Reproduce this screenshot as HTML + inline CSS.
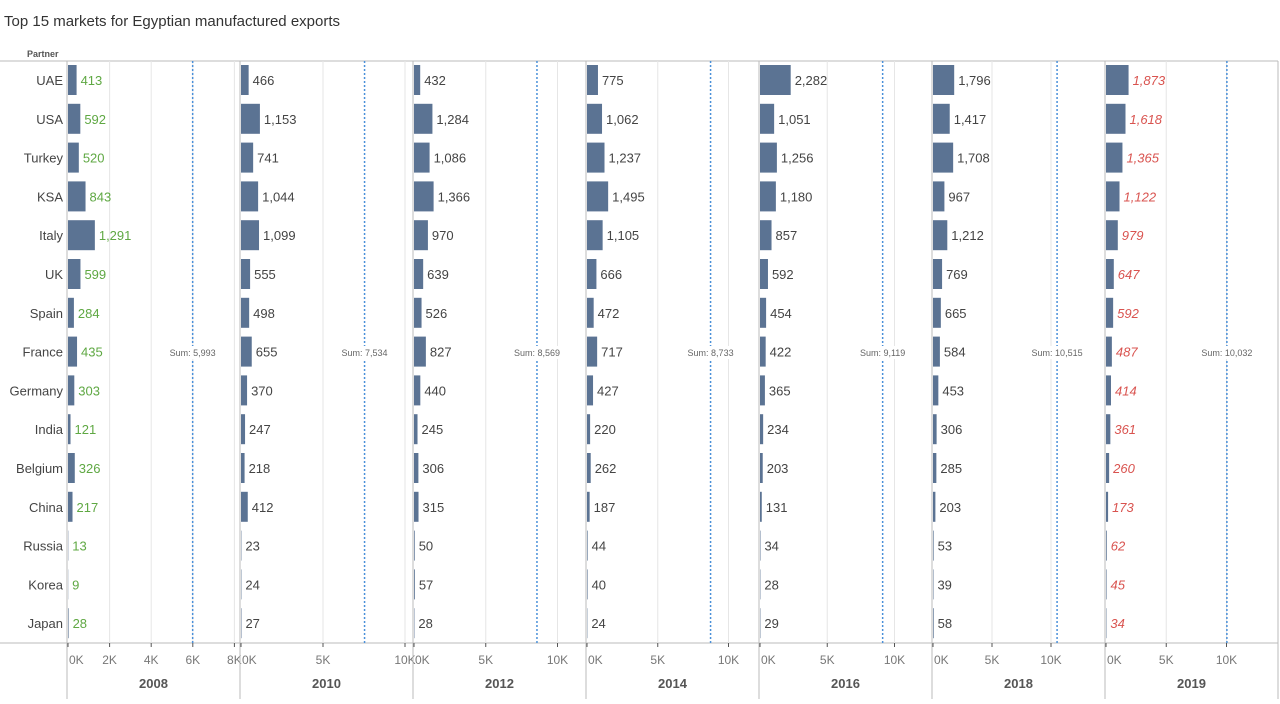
<!DOCTYPE html>
<html><head><meta charset="utf-8"><style>
body{margin:0;background:#fff;width:1280px;height:699px;overflow:hidden;font-family:"Liberation Sans",sans-serif}
</style></head><body>
<svg id="c" width="1280" height="699" xmlns="http://www.w3.org/2000/svg">
<text x="4" y="26" font-size="15" fill="#333">Top 15 markets for Egyptian manufactured exports</text>
<text x="27" y="57" font-size="9" font-weight="bold" fill="#555">Partner</text>
</svg>
<script>
const partners=["UAE","USA","Turkey","KSA","Italy","UK","Spain","France","Germany","India","Belgium","China","Russia","Korea","Japan"];
const years=["2008","2010","2012","2014","2016","2018","2019"];
const v2008=[413,592,520,843,1291,599,284,435,303,121,326,217,13,9,28];
const v2010=[466,1153,741,1044,1099,555,498,655,370,247,218,412,23,24,27];
const v2012=[432,1284,1086,1366,970,639,526,827,440,245,306,315,50,57,28];
const v2014=[775,1062,1237,1495,1105,666,472,717,427,220,262,187,44,40,24];
const v2016=[2282,1051,1256,1180,857,592,454,422,365,234,203,131,34,28,29];
const v2018=[1796,1417,1708,967,1212,769,665,584,453,306,285,203,53,39,58];
const v2019=[1873,1618,1365,1122,979,647,592,487,414,361,260,173,62,45,34];
const sums=[5993,7534,8569,8733,9119,10515,10032];
const ticks2008=[0,2000,4000,6000,8000];
const ticksOther=[0,5000,10000];
const series=[v2008,v2010,v2012,v2014,v2016,v2018,v2019];
const svg=document.getElementById('c');
const NS="http://www.w3.org/2000/svg";
function mk(t,a,p){const e=document.createElementNS(NS,t);for(const k in a)e.setAttribute(k,a[k]);(p||svg).appendChild(e);return e;}
const topY=61,bot=643,pw=173,x0=67;
const scales=[20.8,16.4,14.35,14.15,13.45,11.8,12.05];
function yRow(i){return 80+i*38.8;}
const fmt=n=>n.toLocaleString('en-US');
mk('line',{x1:0,x2:1278,y1:topY,y2:topY,stroke:'#bbb'});
mk('line',{x1:0,x2:1278,y1:bot,y2:bot,stroke:'#bbb'});
partners.forEach((p,i)=>{
  const t=mk('text',{x:63,y:yRow(i)+5,'font-size':13,fill:'#444','text-anchor':'end'});
  
  
  t.textContent=p;
});
years.forEach((yr,k)=>{
  const left=x0+k*pw;
  const pxPerK=scales[k];
  const sx=v=>left+1+v/1000*pxPerK;
  const g=mk('g',{});
  
  
  const ticks=k===0?ticks2008:ticksOther;
  ticks.forEach(tv=>{
    if(tv>0) mk('line',{x1:sx(tv),x2:sx(tv),y1:topY,y2:bot,stroke:'#e6e6e6'},g);
    mk('line',{x1:sx(tv),x2:sx(tv),y1:bot,y2:bot+4,stroke:'#555'},g);
    const t=mk('text',{x:sx(tv)+(tv===0?1:0),y:664,'font-size':12,fill:'#777','text-anchor':tv===0?'start':'middle'},g);
    
    
    t.textContent=(tv/1000)+'K';
  });
  mk('line',{x1:left,x2:left,y1:topY,y2:699,stroke:'#bbb'},g);
  const lx=sx(sums[k]);
  const rl=mk('line',{x1:lx,x2:lx,y1:topY,y2:bot,stroke:'#4a90d9','stroke-dasharray':'2,2','stroke-width':1.5},g);
  
  
  mk('rect',{x:lx-26,y:346,width:52,height:13,fill:'#fff'},g);
  const st=mk('text',{x:lx,y:356,'font-size':9,fill:'#666','text-anchor':'middle'},g);
  
  
  st.textContent='Sum: '+fmt(sums[k]);
  series[k].forEach((v,i)=>{
    const w=sx(v)-(left+1);
    const b=mk('rect',{x:left+1,y:yRow(i)-15,width:Math.max(w,0),height:30,fill:'#5b7393'},g);
    
    
    const col=k===0?'#5fa843':(k===6?'#d9534f':'#444');
    const t=mk('text',{x:left+1+w+4,y:yRow(i)+5,'font-size':13,fill:col},g);
    if(k===6){t.setAttribute('font-style','italic');}
    
    
    t.textContent=fmt(v);
  });
  const yl=mk('text',{x:left+pw/2,y:688,'font-size':13,'font-weight':'bold',fill:'#555','text-anchor':'middle'},g);
  
  
  yl.textContent=yr;
});
mk('line',{x1:1278,x2:1278,y1:topY,y2:699,stroke:'#bbb'});
</script>
</body></html>
